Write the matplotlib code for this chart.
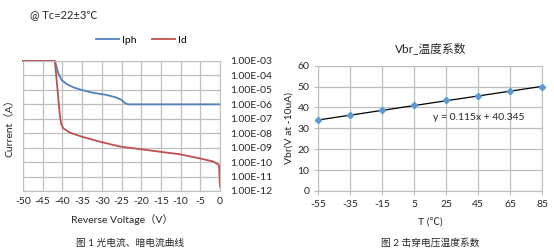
import numpy as np
import matplotlib
matplotlib.use("Agg")
import matplotlib.pyplot as plt
from matplotlib.ticker import FixedLocator, FuncFormatter

plt.rcParams['font.family'] = ['Lato', 'Noto Sans CJK SC', 'DejaVu Sans']
plt.rcParams['axes.unicode_minus'] = False

# --- figure 1: photo current / dark current vs reverse voltage
v_iph = [-50, -41.9, -41.04, -40.18, -38.9, -37.2, -35.1, -32.2, -28.8, -26.2,
         -24.95, -24.1, -23.3, 0]
iph = [1e-3, 1e-3, 1.4e-4, 4.8e-5, 2.5e-5, 1.5e-5, 9.8e-6, 6.3e-6, 4.5e-6, 2.9e-6,
       2.0e-6, 1.2e-6, 1.0e-6, 1.0e-6]

v_id = [-50, -41.9, -40.7, -40.35, -39.8, -38.1, -35.1, -30.5, -25.4, -20.3,
        -15.2, -10.2, -5.1, -1.7, -0.25, 0]
idark = [1e-3, 1e-3, 2.5e-7, 4.9e-8, 2.2e-8, 1.1e-8, 5.8e-9, 2.6e-9, 1.2e-9, 7.9e-10,
         5.2e-10, 3.5e-10, 1.8e-10, 1.1e-10, 6.3e-11, 2.0e-12]

volt_ticks = list(range(-50, 1, 5))
cur_ticks = [10.0 ** e for e in range(-12, -2)]

# --- figure 2: breakdown voltage vs temperature
temp = [-55, -35, -15, 5, 25, 45, 65, 85]
vbr = [34.0, 36.3, 38.8, 41.2, 43.4, 45.3, 47.9, 49.9]
slope, intercept = 0.115, 40.345

grid_c = '#BFBFBF'
txt_c = '#262626'

fig = plt.figure(figsize=(5.54, 2.52), dpi=100)

ax1 = fig.add_axes([23 / 554, 1 - 191 / 252, 197 / 554, 130 / 252])
ax1.plot(v_iph, iph, color='#4F81BD', lw=1.3, label='Iph', clip_on=False)
ax1.plot(v_id, idark, color='#C0504D', lw=1.3, label='Id', clip_on=False)
ax1.set_yscale('log')
ax1.set_xlim(-50, 0)
ax1.set_ylim(1e-12, 1e-3)
ax1.xaxis.set_major_locator(FixedLocator(volt_ticks))
ax1.yaxis.set_major_locator(FixedLocator(cur_ticks))
ax1.yaxis.set_minor_locator(FixedLocator([]))
ax1.yaxis.set_major_formatter(FuncFormatter(lambda v, p: f"{v:.2E}"))
ax1.yaxis.tick_right()
ax1.grid(True, color=grid_c, lw=0.9)
for s in ax1.spines.values():
    s.set_color(grid_c)
ax1.tick_params(length=0, labelsize=7.5, colors=txt_c, pad=4)
ax1.tick_params(axis='y', pad=7)
ax1.set_xlabel('Reverse Voltage（V）', fontsize=7.5, color=txt_c, labelpad=6)
ax1.set_ylabel('Current（A）', fontsize=7.5, color=txt_c, labelpad=6)
ax1.legend(loc='lower center', bbox_to_anchor=(0.6, 1.05), ncol=2, frameon=False,
           fontsize=7.5, handlelength=2.2, handletextpad=0.3, columnspacing=1.5)
fig.text(30 / 554, 1 - 16 / 252, '@ Tc=22±3℃', fontsize=8, color=txt_c, va='center')
fig.text(130 / 554, 1 - 243 / 252, '图 1 光电流、暗电流曲线', fontsize=7,
         color=txt_c, ha='center', va='center')

ax2 = fig.add_axes([318.3 / 554, 1 - 191 / 252, 224 / 554, 125.3 / 252])
tx = np.array([temp[0], temp[-1]])
ax2.plot(tx, slope * tx + intercept, color='black', lw=0.9, zorder=2)
ax2.plot(temp, vbr, ls='none', marker='D', ms=3.2, color='#5B9BD5', zorder=3,
         clip_on=False)
ax2.set_xlim(-55, 85)
ax2.set_ylim(0, 60)
ax2.xaxis.set_major_locator(FixedLocator(temp))
ax2.yaxis.set_major_locator(FixedLocator(range(0, 61, 10)))
ax2.grid(True, color=grid_c, lw=0.9)
for s in ax2.spines.values():
    s.set_color(grid_c)
ax2.tick_params(length=3, color=grid_c, labelsize=7.5, colors=txt_c)
ax2.set_xlabel('T (℃)', fontsize=7.5, color=txt_c, labelpad=6)
ax2.set_ylabel('Vbr(V at -10uA)', fontsize=7.5, color=txt_c, labelpad=3)
ax2.set_title('Vbr_温度系数', fontsize=8.5, color=txt_c, pad=10)
ax2.text(16.5, 35, f'y = {slope}x + {intercept}', fontsize=7.5, color=txt_c,
         va='center')
fig.text(430 / 554, 1 - 243 / 252, '图 2 击穿电压温度系数', fontsize=7,
         color=txt_c, ha='center', va='center')

fig.savefig('out.png', dpi=100)
